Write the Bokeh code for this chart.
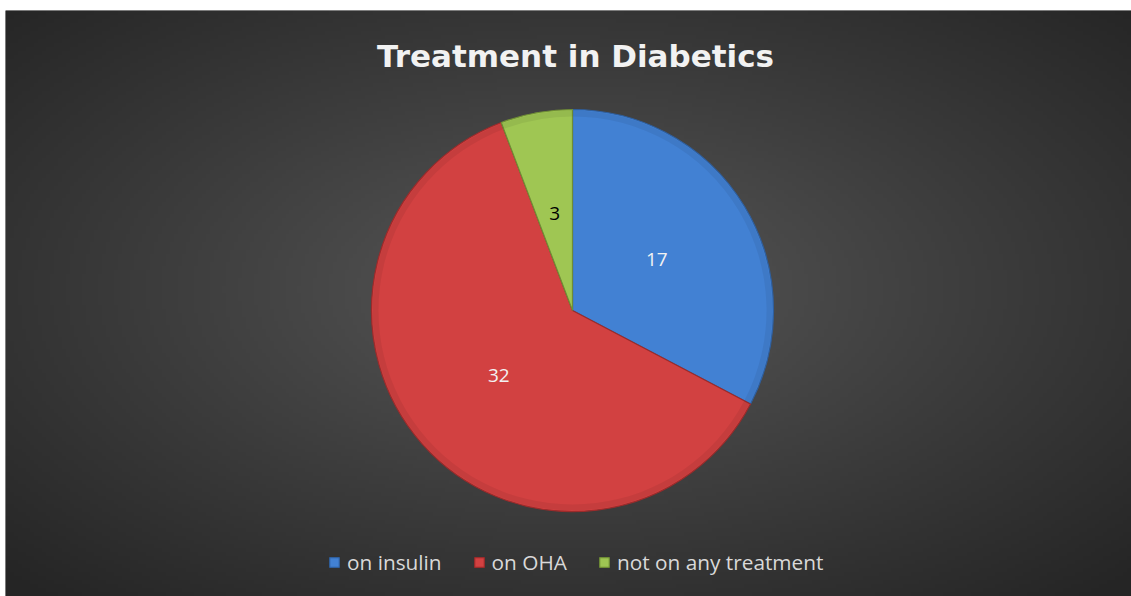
import numpy as np
from bokeh.plotting import figure
from bokeh.models import Range1d, Legend, LegendItem, ColumnDataSource
from bokeh.core.properties import value
from bokeh.embed import file_html
from bokeh.resources import INLINE

# ---- data ----
categories = ["on insulin", "on OHA", "not on any treatment"]
counts = [17, 32, 3]
colors = ["#4281d3", "#d24141", "#9fc653"]
edge_colors = ["#2f5f9e", "#9b2b2b", "#6f8d35"]
label_colors = ["#f2f2f2", "#f2f2f2", "#000000"]
title_text = "Treatment in Diabetics"

W, H = 1131, 596
ML, MT = 5, 10
FW, FH = W - ML, H - MT
CX, CY, R = 567, 286, 201

p = figure(width=W, height=H, output_backend="svg", toolbar_location=None,
           x_range=Range1d(0, FW), y_range=Range1d(0, FH),
           min_border_left=ML, min_border_top=MT, min_border_right=0, min_border_bottom=0,
           outline_line_color=None)
p.axis.visible = False
p.grid.visible = False
p.background_fill_color = "#333333"
p.border_fill_color = "#ffffff"

# radial background gradient (decoration)
gw, gh = 282, 147
yy, xx = np.mgrid[0:gh, 0:gw]
nx = (xx + 0.5) / gw * 2 - 1
ny = (yy + 0.5) / gh * 2 - 1
ny = ny - 0.05
r = np.sqrt(nx ** 2 + ny ** 2) / np.sqrt(2)
r = np.clip(r, 0, 1)
v = (0x5a - (0x5a - 0x25) * r ** 0.9).astype(np.uint32)
img = (255 << 24) | (v << 16) | (v << 8) | v
p.image_rgba(image=[img.view(np.uint32)], x=0, y=0, dw=FW, dh=FH)

# pie
vals = np.array(counts, dtype=float)
total = vals.sum()
cum = np.concatenate([[0], np.cumsum(vals)])
start = np.pi / 2 - 2 * np.pi * cum[:-1] / total
end = np.pi / 2 - 2 * np.pi * cum[1:] / total

items = []
for i, cat in enumerate(categories):
    rend = p.wedge(x=CX, y=CY, radius=R, start_angle=start[i], end_angle=end[i],
                   direction="clock", fill_color=colors[i], line_color=edge_colors[i],
                   line_width=1.2)
    items.append(LegendItem(label=cat, renderers=[rend]))
    # subtle bevel shading on the rim
    p.annular_wedge(x=CX, y=CY, inner_radius=R - 7, outer_radius=R - 1,
                    start_angle=start[i], end_angle=end[i], direction="clock",
                    fill_color="black", fill_alpha=0.06, line_color=None)

# data labels
mid = (start + end) / 2
lx = CX + 0.49 * R * np.cos(mid)
ly = CY + 0.49 * R * np.sin(mid)
src = ColumnDataSource(dict(x=lx, y=ly, t=[str(c) for c in counts], c=label_colors))
p.text(x="x", y="y", text="t", text_color="c", source=src,
       text_font=value("Open Sans"), text_font_size="19px",
       text_align="center", text_baseline="middle")

# title
p.text(x=[CX + 3], y=[FH - 45], text=[title_text], text_font=value("DejaVu Sans"),
       text_font_size="31px", text_font_style="bold", text_color="#f2f2f2",
       text_align="center", text_baseline="middle")

legend = Legend(items=items, orientation="horizontal", location=(323, 20),
                padding=0, margin=0, spacing=31, glyph_width=12, glyph_height=12,
                label_standoff=7, label_text_font="Open Sans", label_text_font_size="20.8px",
                label_text_color="#d9d9d9", background_fill_alpha=0,
                border_line_alpha=0, label_height=22)
p.add_layout(legend, "center")

open("out.html", "w").write(file_html(p, INLINE))
